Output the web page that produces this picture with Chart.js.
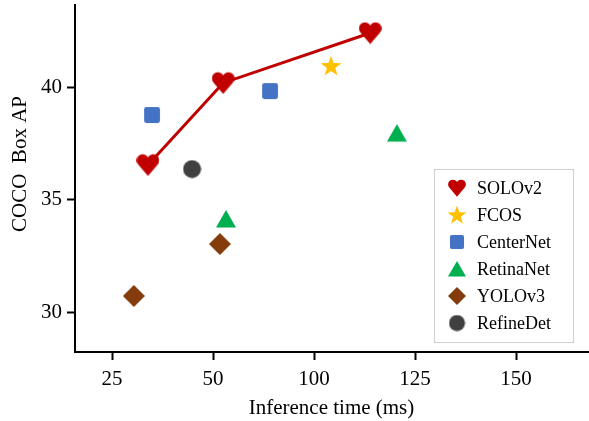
<!DOCTYPE html>
<html>
<head>
<meta charset="utf-8">
<script src="https://cdn.jsdelivr.net/npm/chart.js@4"></script>
<style>
  html, body { margin: 0; padding: 0; background: #fff; }
  #wrap { width: 589px; height: 421px; }
</style>
</head>
<body>
<div id="wrap"><canvas id="chart" width="589" height="421"></canvas></div>
<script>
// ── Data (x in axis position units; tick labels below map those positions) ──
const xTickPos    = [25, 50, 75, 100, 125];
const xTickLabels = ['25', '50', '100', '125', '150'];
const yTicks      = [30, 35, 40];

const seriesNames  = ['SOLOv2', 'FCOS', 'CenterNet', 'RetinaNet', 'YOLOv3', 'RefineDet'];
const solov2X    = [33.9, 52.5, 88.9];
const solov2Y    = [36.55, 40.18, 42.39];
const fcosX      = [79.2];
const fcosY      = [40.93];
const centerNetX = [34.9, 64.1];
const centerNetY = [38.76, 39.82];
const retinaX    = [53.2, 95.5];
const retinaY    = [34.16, 37.96];
const yoloX      = [30.4, 51.7];
const yoloY      = [30.75, 33.05];
const refineX    = [44.8];
const refineY    = [36.37];

const FONT = "'Liberation Serif', 'Times New Roman', serif";

// ── Marker images ─────────────────────────────────────────────────────────────
function makeMarker(kind, color, s) {
  const c = document.createElement('canvas');
  c.width = s; c.height = s;
  const g = c.getContext('2d');
  g.fillStyle = color;
  g.beginPath();
  if (kind === 'heart') {
    const r = s * 0.265;
    g.arc(s * 0.27, s * 0.3, r, Math.PI * 0.75, Math.PI * 2);
    g.arc(s * 0.73, s * 0.3, r, Math.PI, Math.PI * 2.25);
    g.lineTo(s * 0.5, s * 0.98);
    g.closePath();
  } else if (kind === 'star') {
    const cx = s / 2, cy = s * 0.53, ro = s * 0.5, ri = s * 0.2;
    for (let i = 0; i < 10; i++) {
      const a = -Math.PI / 2 + i * Math.PI / 5;
      const r = i % 2 ? ri : ro;
      g.lineTo(cx + r * Math.cos(a), cy + r * Math.sin(a));
    }
    g.closePath();
  } else if (kind === 'square') {
    const p = s * 0.06;
    g.roundRect(p, p, s - 2 * p, s - 2 * p, s * 0.12);
  } else if (kind === 'triangle') {
    g.moveTo(s / 2, s * 0.05);
    g.lineTo(s, s * 0.92);
    g.lineTo(0, s * 0.92);
    g.closePath();
  } else if (kind === 'diamond') {
    g.moveTo(s / 2, 0);
    g.lineTo(s, s / 2);
    g.lineTo(s / 2, s);
    g.lineTo(0, s / 2);
    g.closePath();
  } else {
    g.arc(s / 2, s / 2, s / 2 - 0.5, 0, Math.PI * 2);
  }
  g.fill();
  return c;
}

const kinds  = ['heart', 'star', 'square', 'triangle', 'diamond', 'circle'];
const colors = ['#C00000', '#FFC000', '#4472C4', '#00B050', '#843C0C', '#404040'];
const sizes  = [23, 22, 18, 20, 22, 19];
const legendSizes = [18, 20, 16, 18, 18, 17];

const xs = [solov2X, fcosX, centerNetX, retinaX, yoloX, refineX];
const ys = [solov2Y, fcosY, centerNetY, retinaY, yoloY, refineY];

const datasets = seriesNames.map((name, i) => ({
  label: name,
  data: xs[i].map((x, k) => ({ x, y: ys[i][k] })),
  pointStyle: makeMarker(kinds[i], colors[i], sizes[i]),
  legendMarker: makeMarker(kinds[i], colors[i], legendSizes[i]),
  showLine: i === 0,
  borderColor: colors[i],
  borderWidth: 3,
  backgroundColor: colors[i],
  order: i === 0 ? 10 : i
}));

// ── Legend box + rotated y title drawn on top ───────────────────────────────
const boxLegend = {
  id: 'boxLegend',
  afterDraw(chart) {
    const ctx = chart.ctx;
    ctx.save();
    ctx.strokeStyle = '#d0d0d0';
    ctx.lineWidth = 1;
    ctx.strokeRect(434.5, 169.5, 139, 173);
    ctx.font = '18px ' + FONT;
    ctx.fillStyle = '#000';
    ctx.textBaseline = 'middle';
    chart.data.datasets.forEach((ds, i) => {
      const y = 188 + 27 * i;
      const m = ds.legendMarker;
      ctx.drawImage(m, 457 - m.width / 2, y - m.height / 2);
      ctx.fillText(ds.label, 477, y + 1);
    });
    // y axis title
    ctx.translate(20, 164);
    ctx.rotate(-Math.PI / 2);
    ctx.textAlign = 'center';
    ctx.font = '21px ' + FONT;
    ctx.fillText('COCO  Box AP', 0, 0);
    ctx.restore();
  }
};

function noPad(s) {
  s.paddingTop = 0; s.paddingBottom = 0; s.paddingLeft = 0; s.paddingRight = 0;
}

new Chart(document.getElementById('chart'), {
  type: 'scatter',
  data: { datasets },
  options: {
    responsive: false,
    animation: false,
    layout: { autoPadding: false, padding: { top: 5, right: 1, left: 0, bottom: 0 } },
    plugins: { legend: { display: false }, tooltip: { enabled: false } },
    scales: {
      x: {
        type: 'linear',
        min: 15.84, max: 142.8,
        afterBuildTicks: s => { s.ticks = xTickPos.map(v => ({ value: v })); },
        afterFit: s => { s.height = 69; noPad(s); },
        border: { display: true, color: '#000', width: 2 },
        grid: { drawOnChartArea: false, drawTicks: true, tickLength: 8, tickColor: '#000', tickWidth: 2 },
        ticks: {
          color: '#000', padding: 7,
          font: { family: FONT, size: 21 },
          callback: (v) => xTickLabels[xTickPos.indexOf(v)]
        },
        title: { display: true, text: 'Inference time (ms)', color: '#000', font: { family: FONT, size: 21 }, padding: 0 }
      },
      y: {
        min: 28.27, max: 43.63,
        afterBuildTicks: s => { s.ticks = yTicks.map(v => ({ value: v })); },
        afterFit: s => { s.width = 75; noPad(s); },
        border: { display: true, color: '#000', width: 2 },
        grid: { drawOnChartArea: false, drawTicks: true, tickLength: 8, tickColor: '#000', tickWidth: 2 },
        ticks: { color: '#000', padding: 5, font: { family: FONT, size: 21 } }
      }
    }
  },
  plugins: [boxLegend]
});
</script>
</body>
</html>
